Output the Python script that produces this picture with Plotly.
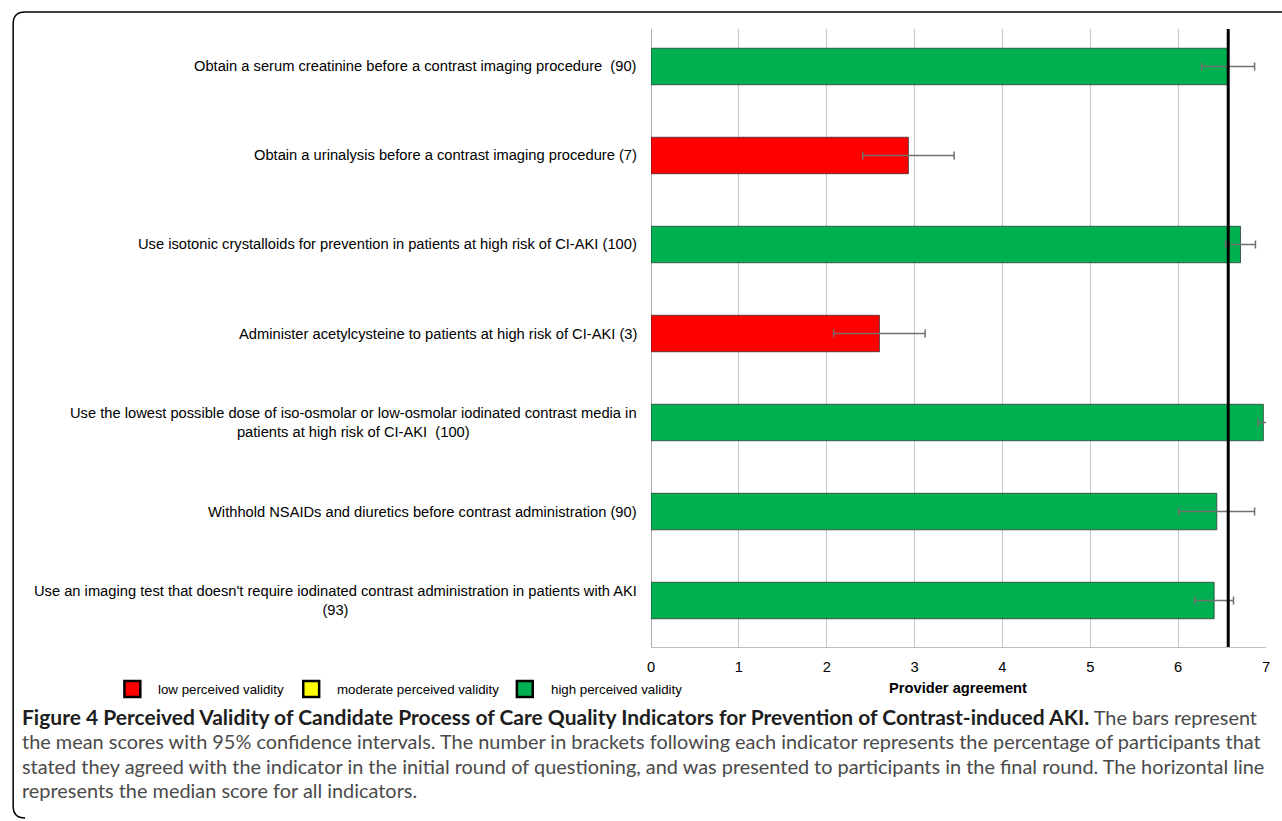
import plotly.graph_objects as go

# Indicators (top to bottom), "{}" receives the % agreement from the first round
indicators = [
    "Obtain a serum creatinine before a contrast imaging procedure  ({})",
    "Obtain a urinalysis before a contrast imaging procedure ({})",
    "Use isotonic crystalloids for prevention in patients at high risk of CI-AKI ({})",
    "Administer acetylcysteine to patients at high risk of CI-AKI ({})",
    "Use the lowest possible dose of iso-osmolar or low-osmolar iodinated contrast media in<br>patients at high risk of CI-AKI  ({})",
    "Withhold NSAIDs and diuretics before contrast administration ({})",
    "Use an imaging test that doesn't require iodinated contrast administration in patients with AKI<br>({})",
]
pct_agreed = [90, 7, 100, 3, 100, 90, 93]
mean_score = [6.57, 2.93, 6.71, 2.60, 6.97, 6.44, 6.41]
ci95 = [0.30, 0.52, 0.17, 0.52, 0.06, 0.43, 0.22]
validity = ["high", "low", "high", "low", "high", "high", "high"]
median_score = 6.57

x_ticks = [0, 1, 2, 3, 4, 5, 6, 7]
validity_colors = {"low": "#FF0000", "moderate": "#FFFF00", "high": "#00B050"}
legend_labels = [("low", "low perceived validity"),
                 ("moderate", "moderate perceived validity"),
                 ("high", "high perceived validity")]

caption_bold = ("Figure 4 Perceived Validity of Candidate Process of Care Quality "
                "Indicators for Prevention of Contrast-induced AKI.")
caption_lines = [
    "<span style='font-size:21px;color:#1e1e1e'><b>" + caption_bold + "</b></span> The bars represent",
    "the mean scores with 95% confidence intervals. The number in brackets following each "
    "indicator represents the percentage of participants that",
    "stated they agreed with the indicator in the initial round of questioning, and was "
    "presented to participants in the final round. The horizontal line",
    "represents the median score for all indicators.",
]

# Figure geometry (pixels)
W, H = 1282, 821
L, R, T, B = 651, 12, 29, 174
PW, PH = W - L - R, H - T - B


def px(x):
    return (x - L) / PW


def py(y):
    return (H - B - y) / PH


ARIAL = "Liberation Sans, Arial"

ypos = list(range(len(indicators)))
labels = [t.format(p) for t, p in zip(indicators, pct_agreed)]

fig = go.Figure()
fig.add_trace(go.Bar(
    x=mean_score,
    y=ypos,
    orientation="h",
    width=0.41,
    marker=dict(color=[validity_colors[v] for v in validity],
                line=dict(color="rgba(40,40,40,0.7)", width=1)),
    error_x=dict(type="data", array=ci95, symmetric=True,
                 color="#6f6f6f", thickness=1.5, width=4),
    showlegend=False,
    hoverinfo="x",
))

shapes = []
# Median score line
shapes.append(dict(type="line", xref="x", yref="paper", x0=median_score, x1=median_score,
                   y0=0, y1=1, line=dict(color="black", width=3)))

# Outer frame with rounded left corners
r = 12
x_left, x_right = 9, W + 5
y_top, y_bot = 12, 818
path = (f"M {px(x_right)},{py(y_top)} L {px(x_left + r)},{py(y_top)} "
        f"Q {px(x_left)},{py(y_top)} {px(x_left)},{py(y_top + r)} "
        f"L {px(x_left)},{py(y_bot - r)} "
        f"Q {px(x_left)},{py(y_bot)} {px(x_left + r)},{py(y_bot)}")
shapes.append(dict(type="path", xref="paper", yref="paper", path=path,
                   line=dict(color="black", width=1.5)))

annotations = []
# Category labels, right-aligned next to the plot, multi-line centred
for i, lab in enumerate(labels):
    annotations.append(dict(x=0, xref="paper", y=i, yref="y", text=lab,
                            xanchor="right", yanchor="middle", align="center",
                            xshift=-12, showarrow=False,
                            font=dict(family=ARIAL, size=14.7, color="black")))

# Axis title
annotations.append(dict(x=px(960), xref="paper", y=py(688), yref="paper",
                        text="<b>Provider agreement</b>", showarrow=False,
                        xanchor="center", yanchor="middle",
                        font=dict(family=ARIAL, size=14.7, color="black")))

# Legend (colour keys)
legend_pos = [(121, 153), (301, 333), (516, 548)]
for (key, text), (sx, tx) in zip(legend_labels, legend_pos):
    shapes.append(dict(type="rect", xref="paper", yref="paper",
                       x0=px(sx), x1=px(sx + 16), y0=py(681), y1=py(697),
                       fillcolor=validity_colors[key], line=dict(color="black", width=2.5)))
    annotations.append(dict(x=px(tx), xref="paper", y=py(689), yref="paper", text=text,
                            xanchor="left", yanchor="middle", showarrow=False,
                            font=dict(family=ARIAL, size=13.3, color="black")))

# Caption
for k, line in enumerate(caption_lines):
    annotations.append(dict(x=px(16), xref="paper", y=py(716 + 24.8 * k), yref="paper",
                            text=line, xanchor="left", yanchor="middle", align="left",
                            showarrow=False,
                            font=dict(family="Lato", size=19.9, color="#4a4a4a")))

fig.update_layout(
    width=W, height=H,
    margin=dict(l=L, r=R, t=T, b=B, pad=0),
    paper_bgcolor="white", plot_bgcolor="white",
    bargap=0.5,
    shapes=shapes,
    annotations=annotations,
    xaxis=dict(range=[0, 7], tickvals=x_ticks, showgrid=True, gridcolor="#c8c8c8",
               gridwidth=1, zeroline=True, zerolinecolor="#b0b0b0", zerolinewidth=1,
               showline=True, linecolor="#bfbfbf", linewidth=1, mirror=False,
               ticks="", ticklabelstandoff=6,
               tickfont=dict(family=ARIAL, size=14.7, color="black"),
               fixedrange=True),
    yaxis=dict(range=[6.522, -0.421], showticklabels=False, showgrid=False,
               zeroline=False, showline=False, fixedrange=True),
)

fig.write_html("out.html")
